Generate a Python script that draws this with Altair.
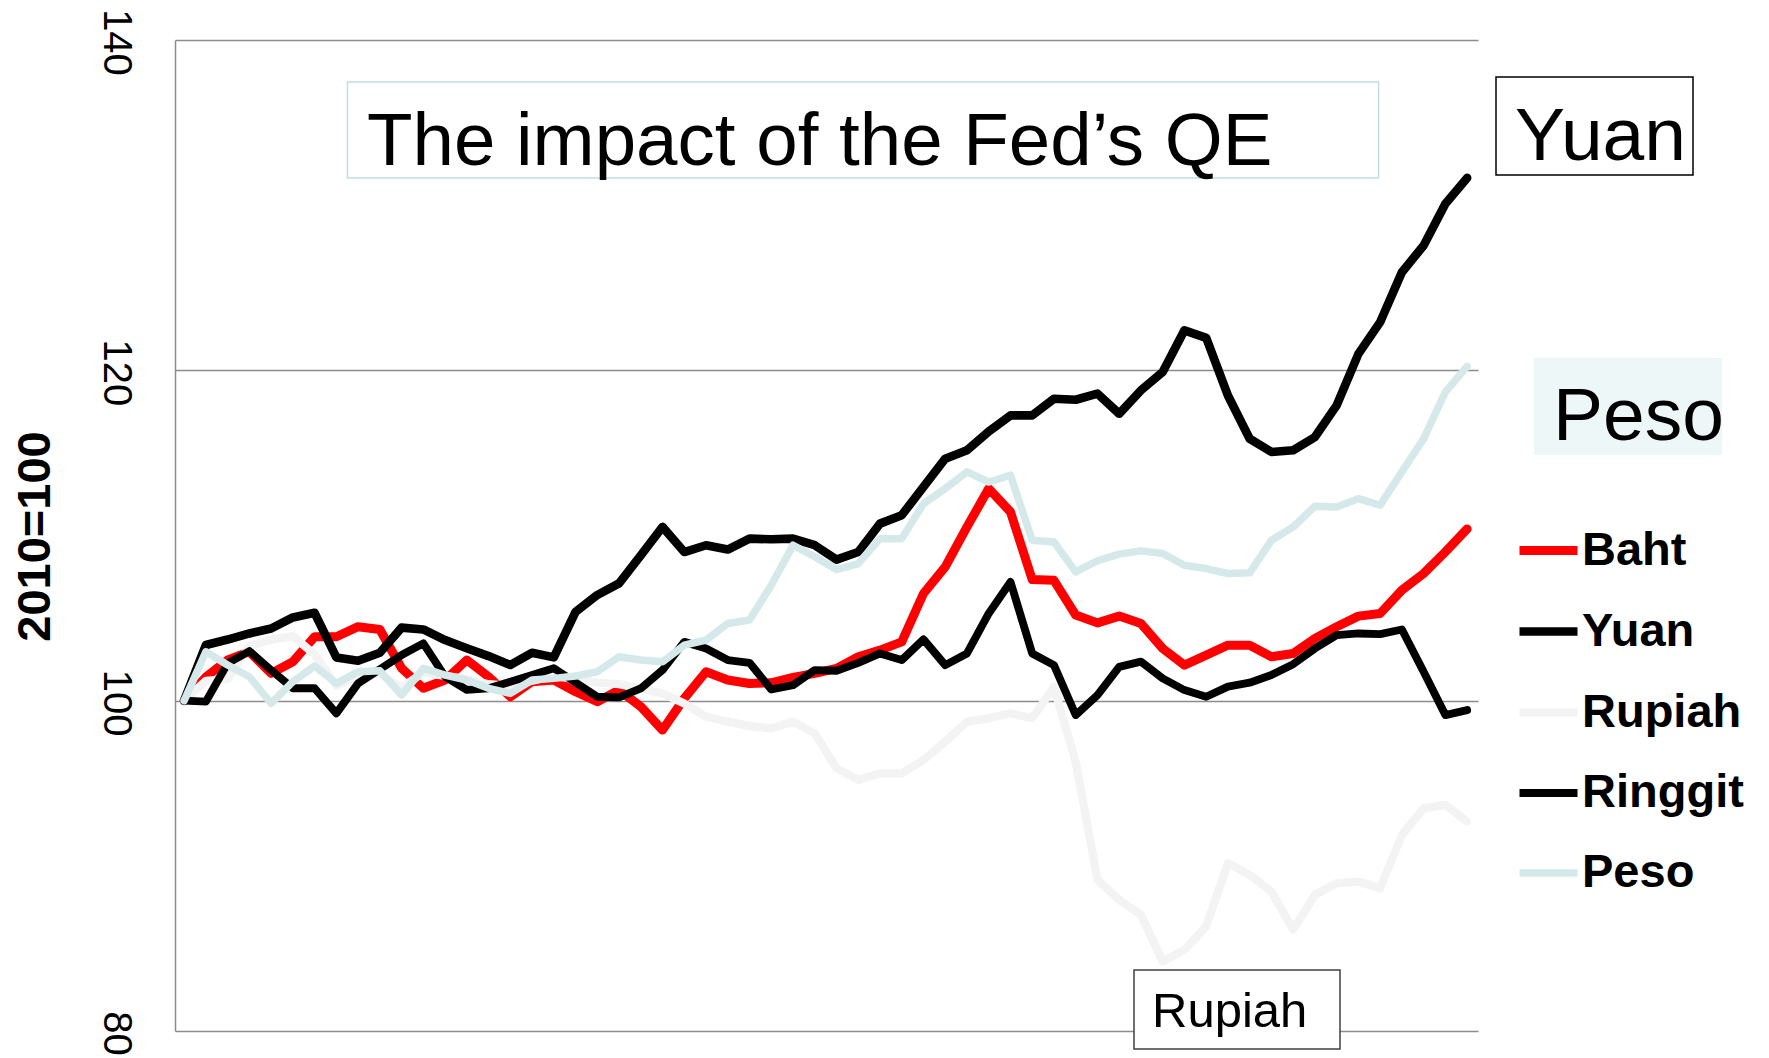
import altair as alt
import pandas as pd

months = list(range(60))

baht = [100, 101.43, 102.46, 102.96, 101.65, 102.36, 103.87, 103.87, 104.48, 104.31,
        101.96, 100.75, 101.25, 102.46, 101.45, 100.24, 101.15, 101.25, 100.54, 99.94,
        100.64, 99.64, 98.22, 100.14, 101.75, 101.25, 101.04, 101.08, 101.41, 101.65,
        101.95, 102.66, 103.06, 103.56, 106.49, 108.1, 110.52, 112.84, 111.43, 107.33,
        107.29, 105.18, 104.71, 105.12, 104.67, 103.16, 102.15, 102.76, 103.36, 103.36,
        102.66, 102.86, 103.77, 104.47, 105.12, 105.28, 106.69, 107.7, 109.01, 110.4]

yuan = [100, 103.37, 103.7, 104.07, 104.37, 105.04, 105.32, 102.62, 102.42, 102.9,
        104.42, 104.31, 103.67, 103.17, 102.7, 102.16, 102.9, 102.62, 105.38, 106.4,
        107.1, 108.8, 110.52, 109.0, 109.41, 109.15, 109.81, 109.77, 109.81, 109.41,
        108.54, 109.0, 110.72, 111.23, 112.94, 114.65, 115.16, 116.3, 117.27, 117.27,
        118.28, 118.22, 118.59, 117.37, 118.79, 119.9, 122.42, 121.97, 118.48, 115.86,
        115.06, 115.16, 115.96, 117.88, 121.0, 122.92, 125.94, 127.56, 130.08, 131.65]

rupiah = [100, 101.2, 101.3, 103.3, 103.7, 103.9, 102.8, 100.9, 101.5, 101.6,
          100.8, 101.7, 101.5, 101.3, 101.0, 100.9, 101.2, 101.5, 101.3, 101.1,
          101.0, 100.74, 100.44, 99.83, 99.03, 98.73, 98.46, 98.32, 98.73, 98.02,
          95.91, 95.2, 95.6, 95.6, 96.41, 97.52, 98.73, 98.93, 99.23, 98.93,
          100.84, 96.3, 89.15, 87.94, 87.03, 84.21, 84.91, 86.33, 90.16, 89.45,
          88.44, 86.13, 88.24, 88.95, 89.05, 88.64, 91.87, 93.48, 93.69, 92.68]

ringgit = [100, 99.94, 102.26, 103.0, 101.85, 100.75, 100.75, 99.23, 101.05, 101.9,
           102.76, 103.47, 101.45, 100.65, 100.75, 101.15, 101.55, 101.96, 101.1, 100.24,
           100.2, 100.74, 101.85, 103.56, 103.16, 102.46, 102.29, 100.68, 100.94, 101.85,
           101.81, 102.29, 102.86, 102.46, 103.71, 102.15, 102.86, 105.28, 107.19, 102.86,
           102.15, 99.13, 100.34, 102.05, 102.36, 101.35, 100.64, 100.24, 100.85, 101.09,
           101.55, 102.21, 103.16, 103.97, 104.07, 104.03, 104.31, 101.75, 99.13, 99.43]

peso = [100, 102.96, 102.16, 101.45, 99.84, 101.15, 102.1, 101.05, 101.75, 101.81,
        100.34, 101.96, 101.55, 101.25, 100.75, 100.44, 101.25, 101.35, 101.49, 101.75,
        102.66, 102.46, 102.35, 103.36, 103.67, 104.67, 104.88, 106.99, 109.41, 108.71,
        107.94, 108.3, 109.81, 109.81, 111.93, 112.84, 113.85, 113.24, 113.65, 109.71,
        109.61, 107.8, 108.47, 108.87, 109.07, 108.91, 108.2, 108.0, 107.7, 107.74,
        109.71, 110.52, 111.77, 111.73, 112.23, 111.83, 113.85, 115.86, 118.69, 120.24]

series_names = ["Baht", "Yuan", "Rupiah", "Ringgit", "Peso"]
series_values = [baht, yuan, rupiah, ringgit, peso]
series_colors = ["#ff0000", "#000000", "#f3f3f3", "#000000", "#d5e8ea"]
series_widths = [9, 7.5, 7.5, 7.5, 6]
y_ticks = [80, 100, 120, 140]

rows = []
for name, vals in zip(series_names, series_values):
    for m, v in zip(months, vals):
        rows.append({"month": m, "value": v, "series": name})
df = pd.DataFrame(rows)

FONT = "Liberation Sans"

lines = alt.Chart(df).mark_line(strokeJoin="round", strokeCap="round").encode(
    x=alt.X("month:Q", axis=None, scale=alt.Scale(domain=[-0.42, 59.5], nice=False, zero=False)),
    y=alt.Y("value:Q", scale=alt.Scale(domain=[80, 140], nice=False, zero=False),
            axis=alt.Axis(values=y_ticks, title="2010=100", ticks=False,
                          labelAngle=90, labelAlign="center", labelBaseline="top",
                          labelPadding=40, labelFontSize=40, labelOffset=2,
                          labelFont=FONT, labelColor="#000000",
                          titleFont=FONT, titleFontSize=47, titleFontWeight="bold", titleColor="#000000",
                          titleAngle=-90, titleAlign="center", titleBaseline="alphabetic",
                          titleX=-126, titleY=496,
                          domainColor="#8c8c8c", domainWidth=1.5,
                          gridColor="#8c8c8c", gridWidth=1.5, gridOpacity=1)),
    color=alt.Color("series:N", scale=alt.Scale(domain=series_names, range=series_colors),
                    sort=series_names,
                    legend=alt.Legend(title=None, orient="none", legendX=1340, legendY=477,
                                      symbolType="stroke", symbolSize=3364, symbolStrokeWidth=8,
                                      labelFontSize=47, labelFontWeight="bold", labelFont=FONT,
                                      labelColor="#000000", labelOffset=0, rowPadding=24,
                                      labelLimit=400, padding=0)),
    strokeWidth=alt.StrokeWidth("series:N", scale=alt.Scale(domain=series_names, range=series_widths),
                                legend=None),
    detail="series:N",
)

def box(x, x2, y, y2, fill, stroke, sw):
    return alt.Chart(pd.DataFrame({"k": [0]})).mark_rect(
        fill=fill, stroke=stroke, strokeWidth=sw
    ).encode(x=alt.value(x), x2=alt.value(x2), y=alt.value(y), y2=alt.value(y2))

def label(text, x, y, size):
    return alt.Chart(pd.DataFrame({"t": [text]})).mark_text(
        align="left", baseline="alphabetic", font=FONT, fontSize=size, color="#000000"
    ).encode(text="t:N", x=alt.value(x), y=alt.value(y))

title_box = box(172.5, 1203.6, 42, 138, "#ffffff", "#bfe0e2", 1.5)
title_txt = label("The impact of the Fed\u2019s QE", 192, 125, 74.5)
yuan_box = box(1321, 1518, 37, 135, "#ffffff", "#000000", 1.5)
yuan_txt = label("Yuan", 1340, 120, 75)
peso_box = box(1359, 1547, 318, 415, "#eef7f7", None, 0)
peso_txt = label("Peso", 1378, 400, 75)
rup_box = box(959, 1165, 930, 1009, "#ffffff", "#404040", 1.5)
rup_txt = label("Rupiah", 977, 987, 49)

chart = alt.layer(
    lines, title_box, title_txt, yuan_box, yuan_txt, peso_box, peso_txt, rup_box, rup_txt
).properties(
    width=1303, height=991,
    padding={"left": 167, "top": 32, "right": 280, "bottom": 26},
    autosize=alt.AutoSizeParams(type="none"),
).configure_view(stroke=None)

chart.save("out.html", embed_options={"renderer": "svg", "actions": False})
